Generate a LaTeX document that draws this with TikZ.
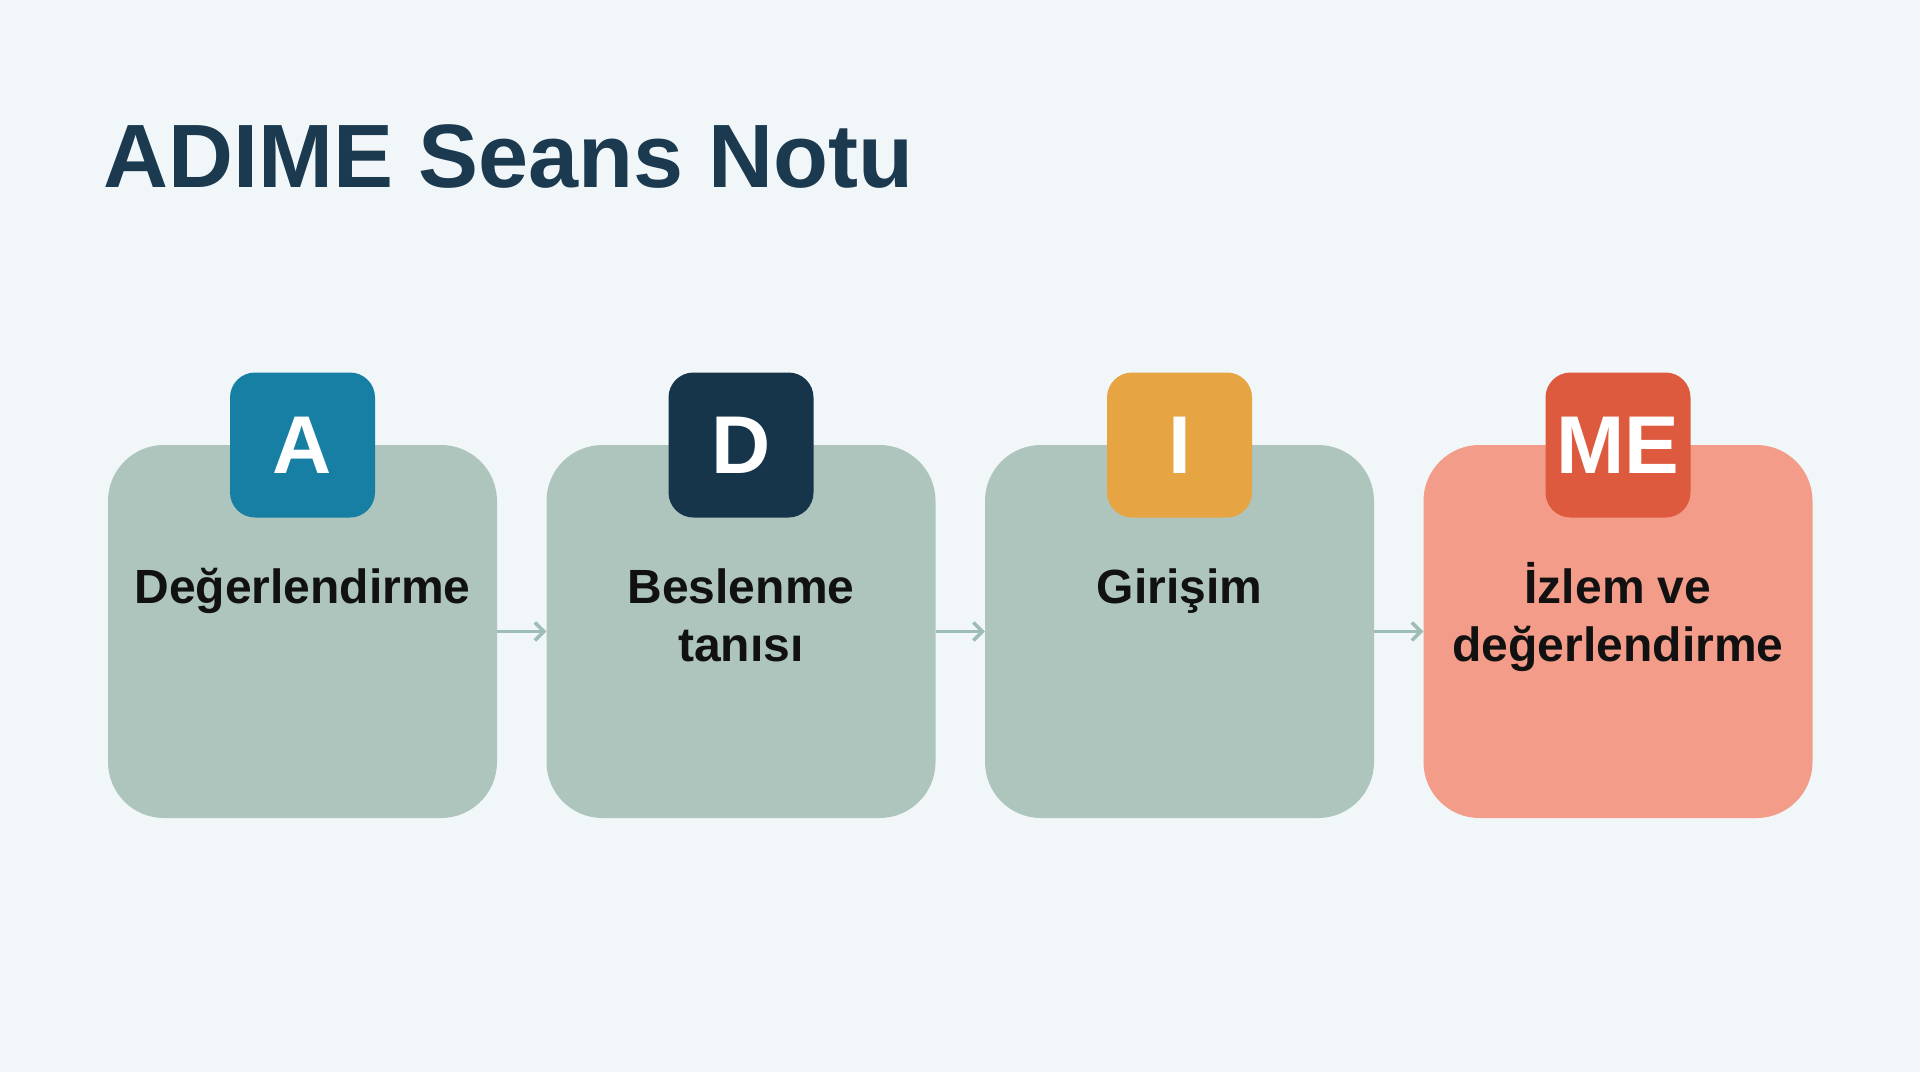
\documentclass[tikz,border=0pt]{standalone}
\usepackage{fontspec}
\setmainfont{Liberation Sans}
\usetikzlibrary{arrows.meta}
\definecolor{bgc}{HTML}{F1F6F8}
\definecolor{titlec}{HTML}{1B3A4F}
\definecolor{boxc}{HTML}{ADC5BD}
\definecolor{boxr}{HTML}{F29C89}
\definecolor{badgeA}{HTML}{167FA3}
\definecolor{badgeD}{HTML}{16354A}
\definecolor{badgeI}{HTML}{E6A443}
\definecolor{badgeM}{HTML}{DE5A3F}
\definecolor{arrc}{HTML}{9DBDB6}
\definecolor{txtc}{HTML}{111111}
\begin{document}
\begin{tikzpicture}[x=1pt,y=-1pt,
  card/.style={rectangle, rounded corners=56pt, minimum width=389pt, minimum height=373pt, inner sep=0pt, draw=none},
  badge/.style={rectangle, rounded corners=25pt, minimum width=145pt, minimum height=145pt, inner sep=0pt, text=white, font=\bfseries\fontsize{82}{84}\selectfont},
  label/.style={anchor=base, align=center, inner sep=0pt, text=txtc, font=\bfseries\fontsize{48}{58}\selectfont},
  flow/.style={draw=arrc, line width=3.5pt, -{Straight Barb[length=9pt,width=18pt,line width=3.5pt]}}]
\fill[bgc] (0,0) rectangle (1920,1072);
\useasboundingbox (0,0) rectangle (1920,1072);
\node[anchor=base west, inner sep=0pt, text=titlec, font=\bfseries\fontsize{90}{96}\selectfont] (title) at (103,187) {ADIME Seans Notu};
% cards
\node[card, fill=boxc] (c1) at (302.5,631.5) {};
\node[card, fill=boxc] (c2) at (741,631.5) {};
\node[card, fill=boxc] (c3) at (1179.5,631.5) {};
\node[card, fill=boxr] (c4) at (1618,631.5) {};
% badges
\node[badge, fill=badgeA] (bA) at (302.5,445) {A};
\node[badge, fill=badgeD] (bD) at (741,445) {D};
\node[badge, fill=badgeI] (bI) at (1179.5,445) {I};
\node[badge, fill=badgeM] (bM) at (1618,445) {ME};
% labels (base anchor = baseline of the last line)
\node[label] (t1) at (302.5,603) {Değerlendirme};
\node[label] (t2) at (741,661) {Beslenme\\tanısı};
\node[label] (t3) at (1179.5,603) {Girişim};
\node[label] (t4) at (1618,661) {İzlem ve\\değerlendirme};
% arrows
\draw[flow] (c1.east) -- (c2.west);
\draw[flow] (c2.east) -- (c3.west);
\draw[flow] (c3.east) -- (c4.west);
\end{tikzpicture}
\end{document}
